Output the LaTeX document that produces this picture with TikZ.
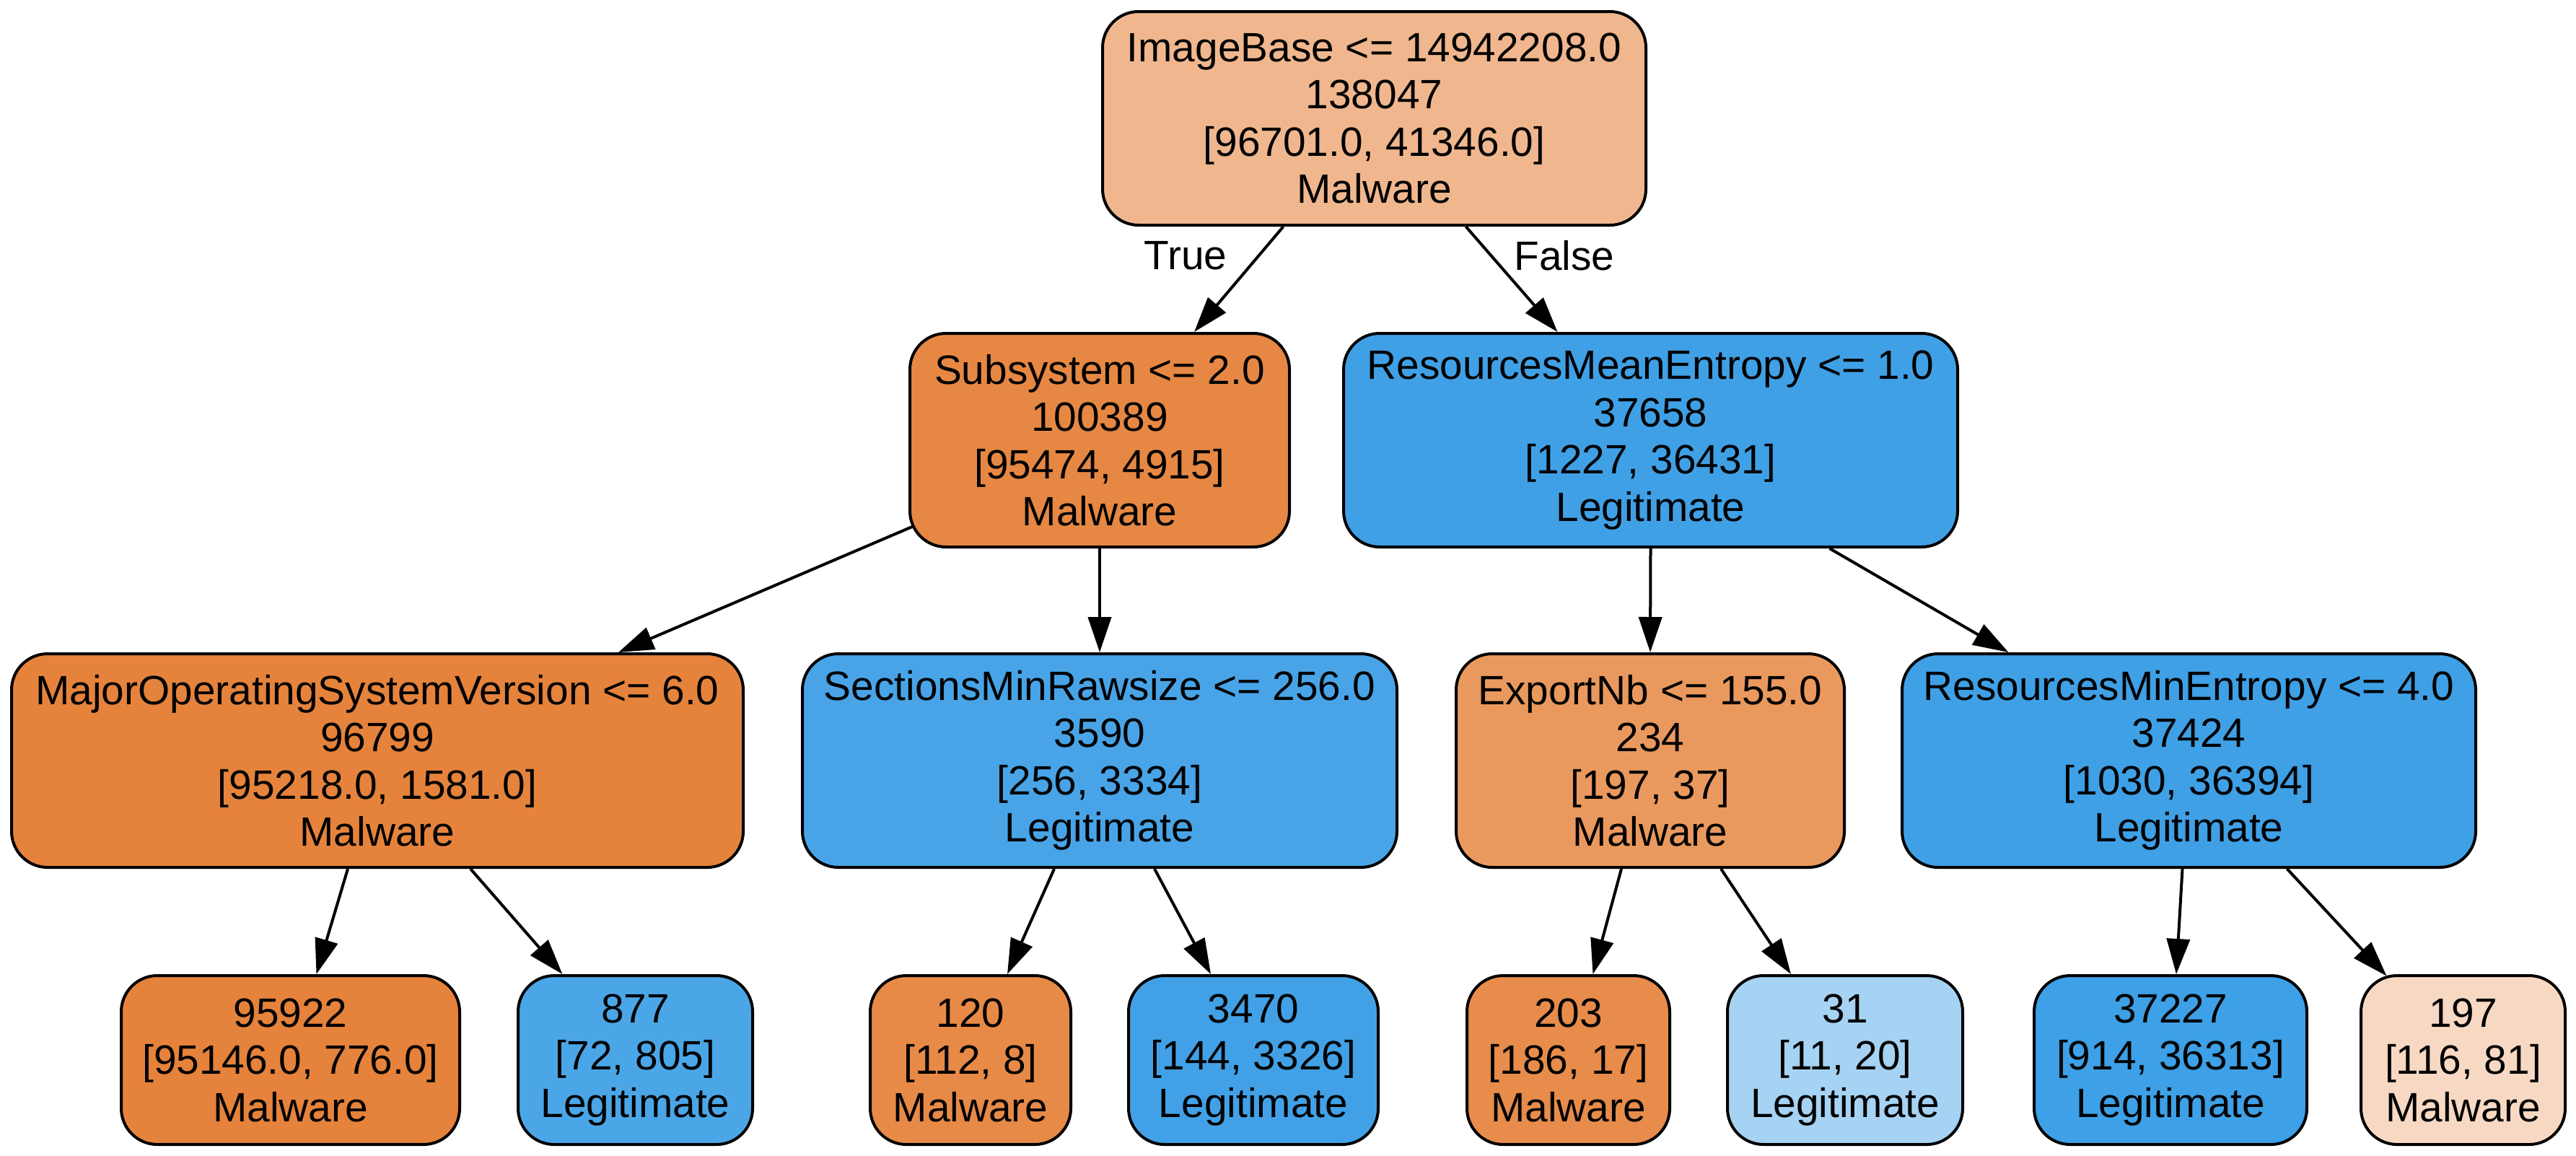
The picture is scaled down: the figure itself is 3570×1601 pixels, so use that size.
\documentclass[tikz,border=0pt]{standalone}
\usepackage{fontspec}
\setmainfont{Liberation Sans}
\usetikzlibrary{arrows.meta}
\definecolor{cRoot}{HTML}{F0B78E}
\definecolor{cSub}{HTML}{E68843}
\definecolor{cRME}{HTML}{40A0E6}
\definecolor{cMaj}{HTML}{E5833C}
\definecolor{cSMR}{HTML}{48A4E7}
\definecolor{cExp}{HTML}{EA995E}
\definecolor{cRMin}{HTML}{3FA0E6}
\definecolor{cA}{HTML}{E5823B}
\definecolor{cB}{HTML}{4BA6E7}
\definecolor{cC}{HTML}{E78A47}
\definecolor{cD}{HTML}{42A1E6}
\definecolor{cE}{HTML}{E78C4B}
\definecolor{cF}{HTML}{A6D3F3}
\definecolor{cG}{HTML}{3EA0E6}
\definecolor{cH}{HTML}{F7D9C3}
\tikzset{
  box/.style={draw=black, line width=0.8pt, rounded corners=10pt, inner sep=0pt,
    align=center, font=\fontsize{11.36pt}{13.1pt}\selectfont},
  sz/.style 2 args={minimum width=#1*0.2pt, minimum height=#2*0.2pt},
  edge/.style={draw=black, line width=0.8pt, -{Triangle[length=9.8pt,width=6.4pt]}},
  elab/.style={inner sep=0pt, font=\fontsize{11.36pt}{13.1pt}\selectfont}
}
\begin{document}
\begin{tikzpicture}[x=0.2pt,y=-0.2pt]
\useasboundingbox (0,0) rectangle (3570,1601);
% level 0
\node[box, sz={753}{296}, fill=cRoot] (root) at (1904.5,164) {ImageBase <= 14942208.0\\138047\\{[96701.0, 41346.0]}\\Malware};
% level 1
\node[box, sz={526}{296}, fill=cSub] (sub) at (1524,610) {Subsystem <= 2.0\\100389\\{[95474, 4915]}\\Malware};
\node[box, sz={851}{296}, fill=cRME] (rme) at (2287.5,610) {ResourcesMeanEntropy <= 1.0\\37658\\{[1227, 36431]}\\Legitimate};
% level 2
\node[box, sz={1014}{296}, fill=cMaj] (maj) at (523,1054) {MajorOperatingSystemVersion <= 6.0\\96799\\{[95218.0, 1581.0]}\\Malware};
\node[box, sz={824}{296}, fill=cSMR] (smr) at (1524,1054) {SectionsMinRawsize <= 256.0\\3590\\{[256, 3334]}\\Legitimate};
\node[box, sz={538}{296}, fill=cExp] (exp) at (2287,1054) {ExportNb <= 155.0\\234\\{[197, 37]}\\Malware};
\node[box, sz={795}{296}, fill=cRMin] (rmin) at (3033.5,1054) {ResourcesMinEntropy <= 4.0\\37424\\{[1030, 36394]}\\Legitimate};
% level 3
\node[box, sz={469}{234}, fill=cA] (la) at (402.5,1469) {95922\\{[95146.0, 776.0]}\\Malware};
\node[box, sz={325}{234}, fill=cB] (lb) at (880.5,1469) {877\\{[72, 805]}\\Legitimate};
\node[box, sz={278}{234}, fill=cC] (lc) at (1345,1469) {120\\{[112, 8]}\\Malware};
\node[box, sz={346}{234}, fill=cD] (ld) at (1737,1469) {3470\\{[144, 3326]}\\Legitimate};
\node[box, sz={281}{234}, fill=cE] (le) at (2173.5,1469) {203\\{[186, 17]}\\Malware};
\node[box, sz={326}{234}, fill=cF] (lf) at (2557,1469) {31\\{[11, 20]}\\Legitimate};
\node[box, sz={378}{234}, fill=cG] (lg) at (3008,1469) {37227\\{[914, 36313]}\\Legitimate};
\node[box, sz={283}{234}, fill=cH] (lh) at (3413.5,1469) {197\\{[116, 81]}\\Malware};
% edge labels
\node[elab] (ltrue) at (1643,354) {True};
\node[elab] (lfalse) at (2168,354) {False};
% edges
\draw[edge] ([xshift=-126*0.2pt]root.south) -- ([xshift=131*0.2pt]sub.north);
\draw[edge] ([xshift=127*0.2pt]root.south) -- ([xshift=-129*0.2pt]rme.north);
\draw[edge] ([xshift=1pt,yshift=-24pt]sub.west) -- ([xshift=334*0.2pt]maj.north);
\draw[edge] (sub.south) -- (smr.north);
\draw[edge] (rme.south) -- (exp.north);
\draw[edge] ([xshift=248*0.2pt]rme.south) -- ([xshift=-250*0.2pt]rmin.north);
\draw[edge] ([xshift=-41*0.2pt]maj.south) -- ([xshift=36*0.2pt]la.north);
\draw[edge] ([xshift=129*0.2pt]maj.south) -- ([xshift=-101*0.2pt]lb.north);
\draw[edge] ([xshift=-63*0.2pt]smr.south) -- ([xshift=51*0.2pt]lc.north);
\draw[edge] ([xshift=76*0.2pt]smr.south) -- ([xshift=-59*0.2pt]ld.north);
\draw[edge] ([xshift=-40*0.2pt]exp.south) -- ([xshift=34*0.2pt]le.north);
\draw[edge] ([xshift=98*0.2pt]exp.south) -- ([xshift=-75*0.2pt]lf.north);
\draw[edge] ([xshift=-9*0.2pt]rmin.south) -- ([xshift=8*0.2pt]lg.north);
\draw[edge] ([xshift=136*0.2pt]rmin.south) -- ([xshift=-106*0.2pt,yshift=-0.5pt]lh.north);
\end{tikzpicture}
\end{document}
